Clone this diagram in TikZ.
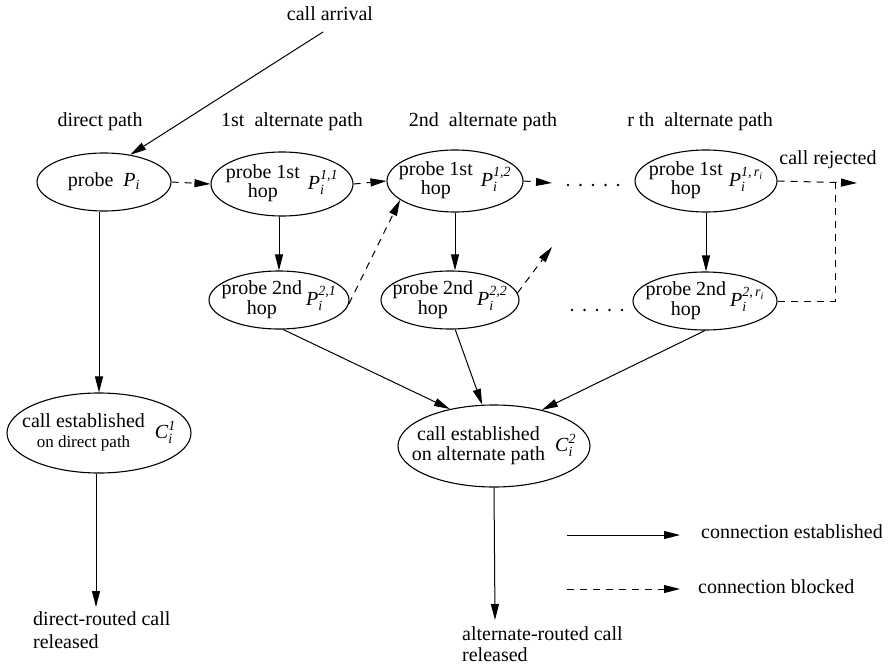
\documentclass[tikz,border=0pt]{standalone}
\usepackage{amsmath}
\usepackage{fontspec}
\setmainfont{Liberation Serif}
\usetikzlibrary{shapes.geometric,arrows.meta}
\newcommand\Pv[1]{\textit{P}$_{\textit{i}}^{\textit{#1}}$}
\newcommand\Prone{\textit{P}$_{\textit{i}}^{\textit{1,\,}\textit{r}_{\textit{i}}}$}
\newcommand\Prtwo{\textit{P}$_{\textit{i}}^{\textit{2,\,}\textit{r}_{\textit{i}}}$}
\newcommand\twol[2]{\begin{tabular}{@{}c@{}}#1\\#2\end{tabular}}
\begin{document}
\begin{tikzpicture}[x=1pt,y=-1pt,
  every node/.style={font=\fontsize{20}{20}\selectfont},
  ell/.style={draw,ellipse,inner sep=0pt,line width=1.1pt},
  lbl/.style={inner sep=0pt},
  tip/.style={-{Triangle[length=16pt,width=8pt]}},
  conn/.style={tip,line width=1pt},
  blk/.style={tip,line width=1pt,dash pattern=on 7pt off 6pt},
  blkl/.style={line width=1pt,dash pattern=on 7pt off 6pt},
  dotrow/.style={line width=2.8pt,line cap=round,dash pattern=on 0pt off 12.5pt}]
\path[use as bounding box] (0,0) rectangle (891,671);

% labels
\node[lbl] (ca) at (330,14) {call arrival};
\node[lbl] (dp) at (100,122) {direct path};
\node[lbl] (a1) at (292,122) {1st\ \ alternate path};
\node[lbl] (a2) at (483,122) {2nd\ \ alternate path};
\node[lbl] (ar) at (700,122) {r th\ \ alternate path};
\node[lbl] (rej) at (828,160) {call rejected};

% ellipses (text placed as centred label so the ellipse keeps its size)
\node[ell,minimum width=134pt,minimum height=58pt,label={[lbl]center:probe\hspace{10pt}\textit{P}$_{\textit{i}}$}] (PI) at (104,182) {};
\node[ell,minimum width=142pt,minimum height=64pt,label={[lbl]center:\twol{probe 1st}{hop}\hspace{8pt}\Pv{1,1}}] (P11) at (282,184) {};
\node[ell,minimum width=136pt,minimum height=62pt,label={[lbl]center:\twol{probe 1st}{hop}\hspace{8pt}\Pv{1,2}}] (P12) at (455,181) {};
\node[ell,minimum width=142pt,minimum height=62pt,label={[lbl]center:\twol{probe 1st}{hop}\hspace{6pt}\Prone}] (P1r) at (706,181) {};
\node[ell,minimum width=140pt,minimum height=58pt,label={[lbl]center:\twol{probe 2nd}{hop}\hspace{4pt}\Pv{2,1}}] (P21) at (279,300) {};
\node[ell,minimum width=138pt,minimum height=58pt,label={[lbl]center:\twol{probe 2nd}{hop}\hspace{4pt}\Pv{2,2}}] (P22) at (450,300) {};
\node[ell,minimum width=144pt,minimum height=58pt,label={[lbl]center:\twol{probe 2nd}{hop}\hspace{4pt}\Prtwo}] (P2r) at (705,301) {};
\node[ell,minimum width=184pt,minimum height=80pt,label={[lbl]center:\twol{call established}{\fontsize{17}{18}\selectfont on direct path}\hspace{10pt}\textit{C}$_{\textit{i}}^{\textit{1}}$}] (C1) at (99,433) {};
\node[ell,minimum width=192pt,minimum height=82pt,label={[lbl]center:\twol{call established}{on alternate path}\hspace{10pt}\textit{C}$_{\textit{i}}^{\textit{2}}$}] (C2) at (494,446) {};

% released labels
\node[lbl,anchor=north west,align=left,font=\fontsize{20}{23}\selectfont] (rel1) at (33,611) {direct-routed call\\released};
\node[lbl,anchor=north west,align=left,font=\fontsize{20}{21}\selectfont] (rel2) at (462,626) {alternate-routed call\\released};

% coordinates
\coordinate (cas) at (323,32);
\coordinate (d12) at (552,183);
\coordinate (d22) at (552,247);
\coordinate (rj) at (857,183);
\coordinate (cr) at (835,183);
\coordinate (e1) at (96,607);
\coordinate (e2) at (495,620);

% connectors
\draw[conn] (cas) -- (PI.46);
\draw[blk] (PI.east) -- (P11.west);
\draw[blk] (P11.east) -- (P12.west);
\draw[blk] (P12.east) -- (d12);
\draw[blk] (P21.-3) -- (P12.199);
\draw[blk] (P22.6) -- (d22);
\draw[blk] (P1r.east) -- (rj);
\draw[blkl] (P2r.east) -| (cr);
\draw[conn] (P21.north |- P11.south) -- (P21.north);
\draw[conn] (P12.south) -- (P12.south |- P22.north);
\draw[conn] (P1r.south) -- (P1r.south |- P2r.north);
\draw[conn] (C1.north |- PI.south) -- (C1.north);
\draw[conn] (C1.south -| e1) -- (e1);
\draw[conn] (P21.-82) -- (C2.140);
\draw[conn] (P22.-80) -- (C2.106);
\draw[conn] (P2r.south) -- (C2.37);
\draw[conn] (C2.south) -- (e2);

% dots
\draw[dotrow] (568,185) -- (625,185);
\draw[dotrow] (572,310) -- (629,310);

% legend
\coordinate (l1a) at (567,535); \coordinate (l1b) at (680,535);
\coordinate (l2a) at (567,589); \coordinate (l2b) at (680,589);
\draw[conn] (l1a) -- (l1b);
\draw[blk] (l2a) -- (l2b);
\node[lbl,anchor=west] (lt1) at (701,532) {connection established};
\node[lbl,anchor=west] (lt2) at (698,587) {connection blocked};
\end{tikzpicture}
\end{document}
